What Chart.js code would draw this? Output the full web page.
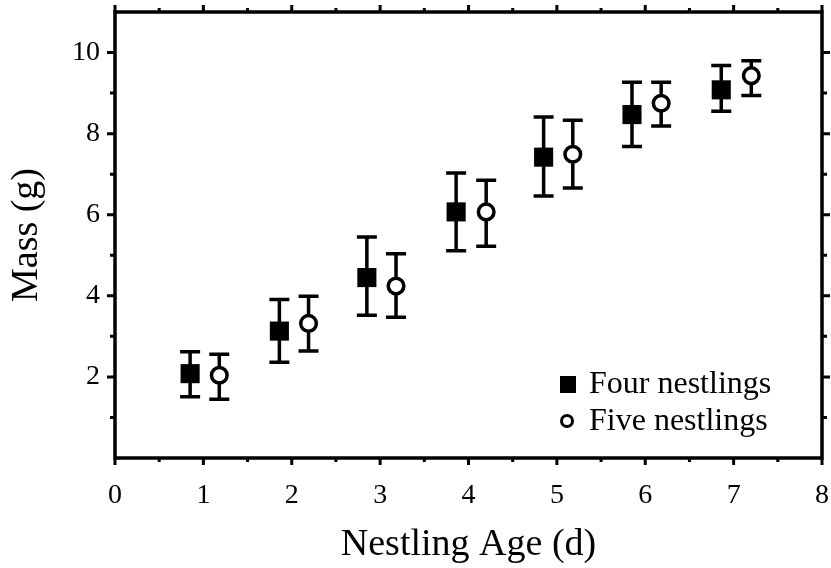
<!DOCTYPE html>
<html>
<head>
<meta charset="utf-8">
<script src="https://cdn.jsdelivr.net/npm/chart.js@4.4.1/dist/chart.umd.min.js"></script>
<style>
  html, body { margin: 0; padding: 0; background: #fff; }
  #wrap { width: 831px; height: 568px; }
</style>
</head>
<body>
<div id="wrap"><canvas id="chart"></canvas></div>
<script>
// nestling age (days), slightly offset per group as in the figure
const fourAge = [0.85, 1.86, 2.85, 3.86, 4.85, 5.85, 6.86];
const fiveAge = [1.18, 2.19, 3.18, 4.20, 5.18, 6.18, 7.20];
// mean mass (g) with error bar ends
const fourMass = [2.08, 3.13, 4.45, 6.07, 7.42, 8.47, 9.08];
const fourHi   = [2.62, 3.91, 5.45, 7.03, 8.41, 9.27, 9.68];
const fourLo   = [1.51, 2.36, 3.52, 5.11, 6.46, 7.68, 8.55];
const fiveMass = [2.04, 3.32, 4.24, 6.07, 7.49, 8.75, 9.43];
const fiveHi   = [2.56, 3.99, 5.04, 6.85, 8.33, 9.27, 9.80];
const fiveLo   = [1.45, 2.64, 3.47, 5.22, 6.66, 8.19, 8.94];

const xTickVals = [0, 1, 2, 3, 4, 5, 6, 7, 8];
const yTickVals = [2, 4, 6, 8, 10];
const legendLabels = ["Four nestlings", "Five nestlings"];

const FONT = "'Liberation Serif', 'DejaVu Serif', serif";
const LW = 3.5;

const errs = [
  { lo: fourLo, hi: fourHi },
  { lo: fiveLo, hi: fiveHi }
];

// error bars, drawn under the markers
const errorBars = {
  id: "errorBars",
  beforeDatasetsDraw(chart) {
    const { ctx, scales: { x, y } } = chart;
    ctx.save();
    ctx.strokeStyle = "#000";
    ctx.lineWidth = LW;
    ctx.lineCap = "butt";
    chart.data.datasets.forEach((ds, i) => {
      ds.data.forEach((p, j) => {
        const px = x.getPixelForValue(p.x);
        const top = y.getPixelForValue(errs[i].hi[j]);
        const bot = y.getPixelForValue(errs[i].lo[j]);
        ctx.beginPath();
        ctx.moveTo(px, top); ctx.lineTo(px, bot);
        ctx.moveTo(px - 10, top); ctx.lineTo(px + 10, top);
        ctx.moveTo(px - 10, bot); ctx.lineTo(px + 10, bot);
        ctx.stroke();
      });
    });
    ctx.restore();
  }
};

// box frame, outward ticks on all four sides, legend inside the plot
const frame = {
  id: "frame",
  afterDraw(chart) {
    const { ctx, chartArea: a, scales: { x, y } } = chart;
    ctx.save();
    ctx.strokeStyle = "#000";
    ctx.lineWidth = LW;
    ctx.strokeRect(a.left, a.top, a.right - a.left, a.bottom - a.top);
    ctx.lineWidth = 3;
    ctx.beginPath();
    for (let v = 0; v <= 8; v += 0.5) {
      const px = x.getPixelForValue(v);
      const len = Number.isInteger(v) ? 7 : 4;
      ctx.moveTo(px, a.bottom); ctx.lineTo(px, a.bottom + len);
      ctx.moveTo(px, a.top); ctx.lineTo(px, a.top - len);
    }
    for (let v = 1; v <= 10; v++) {
      const py = y.getPixelForValue(v);
      const len = v % 2 === 0 ? 8 : 5;
      ctx.moveTo(a.left, py); ctx.lineTo(a.left - len, py);
      ctx.moveTo(a.right, py); ctx.lineTo(a.right + len, py);
    }
    ctx.stroke();

    // legend
    ctx.fillStyle = "#000";
    ctx.font = "32px " + FONT;
    ctx.textBaseline = "middle";
    ctx.fillRect(560, 376, 16, 17);
    ctx.fillText(legendLabels[0], 589, 385);
    ctx.beginPath();
    ctx.lineWidth = 3;
    ctx.arc(567, 421, 5.5, 0, Math.PI * 2);
    ctx.stroke();
    ctx.fillText(legendLabels[1], 589, 422);
    ctx.restore();
  }
};

new Chart(document.getElementById("chart"), {
  type: "scatter",
  data: {
    datasets: [
      {
        label: legendLabels[0],
        data: fourAge.map((a, i) => ({ x: a, y: fourMass[i] })),
        pointStyle: "rect",
        pointRadius: 13.5,
        backgroundColor: "#000",
        borderColor: "#000",
        borderWidth: 0
      },
      {
        label: legendLabels[1],
        data: fiveAge.map((a, i) => ({ x: a, y: fiveMass[i] })),
        pointStyle: "circle",
        pointRadius: 7.8,
        backgroundColor: "#fff",
        borderColor: "#000",
        borderWidth: 3.5
      }
    ]
  },
  options: {
    responsive: true,
    maintainAspectRatio: false,
    animation: false,
    layout: { autoPadding: false, padding: { top: 12, right: 9, left: 0, bottom: 0 } },
    plugins: { legend: { display: false }, tooltip: { enabled: false } },
    scales: {
      x: {
        type: "linear",
        min: 0,
        max: 8,
        afterBuildTicks: s => { s.ticks = xTickVals.map(v => ({ value: v })); },
        afterFit: s => { s.height = 110; s.paddingLeft = 0; s.paddingRight = 0; },
        grid: { display: false },
        border: { display: false },
        ticks: { color: "#000", font: { family: FONT, size: 28 }, padding: 13, maxRotation: 0 },
        title: {
          display: true,
          text: "Nestling Age (d)",
          color: "#000",
          font: { family: FONT, size: 38 },
          padding: { top: 0, bottom: 0 }
        }
      },
      y: {
        type: "linear",
        min: 0,
        max: 11,
        afterBuildTicks: s => { s.ticks = yTickVals.map(v => ({ value: v })); },
        afterFit: s => { s.width = 115; s.paddingTop = 0; s.paddingBottom = 0; },
        grid: { display: false },
        border: { display: false },
        ticks: { color: "#000", font: { family: FONT, size: 28 }, padding: 7 },
        title: {
          display: true,
          text: "Mass (g)",
          color: "#000",
          font: { family: FONT, size: 38 },
          padding: { top: 4, bottom: 0 }
        }
      }
    }
  },
  plugins: [errorBars, frame]
});
</script>
</body>
</html>
